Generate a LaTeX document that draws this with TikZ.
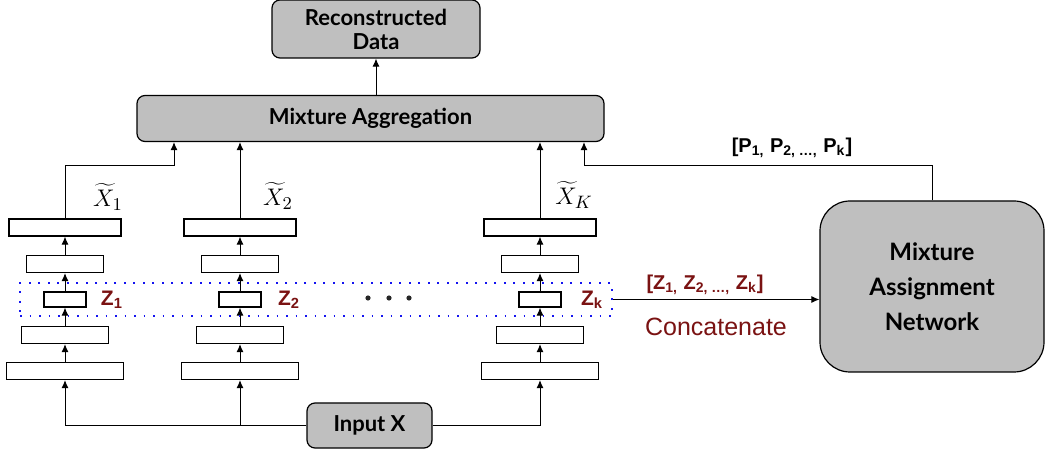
\documentclass[tikz,border=0pt]{standalone}
\usepackage{fontspec}
\usepackage{tikz}
\usetikzlibrary{arrows.meta}
\newfontfamily\boxfont{Lato}
\newfontfamily\arialfont{Liberation Sans}
\definecolor{boxgray}{RGB}{191,191,191}
\definecolor{zred}{RGB}{122,18,18}
\definecolor{dotblue}{RGB}{20,20,240}

\begin{document}
\begin{tikzpicture}[x=0.5pt,y=-0.5pt,
    grey/.style={draw, fill=boxgray, line width=0.6pt, rounded corners=4pt,
      font=\boxfont\bfseries\fontsize{11}{12}\selectfont, align=center, inner sep=0pt},
    layer/.style={draw, line width=0.6pt, minimum height=8.5pt, inner sep=0pt},
    arr/.style={-{Latex[length=4pt,width=3.5pt]}, line width=0.5pt},
    zlab/.style={text=zred, font=\arialfont\bfseries\fontsize{10.5}{12}\selectfont},
    xlab/.style={font=\fontsize{13}{14}\selectfont},
    dot/.style={circle, fill=black!85, minimum size=2.6pt, inner sep=0pt}
  ]
  \useasboundingbox (0,0) rectangle (1045,454);

  \node[grey, minimum width=104pt, minimum height=29pt] (recon) at (376,29) {Reconstructed\\Data};
  \node[grey, minimum width=233.5pt, minimum height=23pt] (agg) at (370.5,118.5) {Mixture Aggregation};
  \node[grey, minimum width=62.5pt, minimum height=22.5pt] (input) at (369.5,425.5) {Input X};
  \node[grey, rounded corners=15pt, minimum width=112pt, minimum height=85.5pt,
    font=\boxfont\bfseries\fontsize{12}{17.5}\selectfont] (man) at (932,286.5) {Mixture\\Assignment\\Network};

  % first column
  \node[layer, minimum width=58.5pt] (a1) at (65,371) {};
  \node[layer, minimum width=43.5pt] (a2) at (65,335) {};
  \node[layer, minimum width=21pt, minimum height=7.5pt] (a3) at (65,299.5) {};
  \node[layer, minimum width=38.5pt] (a4) at (65,264) {};
  \node[layer, minimum width=56pt] (a5) at (65,227.5) {};
  % second column
  \node[layer, minimum width=58.5pt] (b1) at (240,371) {};
  \node[layer, minimum width=43.5pt] (b2) at (240,335) {};
  \node[layer, minimum width=21pt, minimum height=7.5pt] (b3) at (240,299.5) {};
  \node[layer, minimum width=38.5pt] (b4) at (240,264) {};
  \node[layer, minimum width=56pt] (b5) at (240,227.5) {};
  % last column
  \node[layer, minimum width=58.5pt] (k1) at (540,371) {};
  \node[layer, minimum width=43.5pt] (k2) at (540,335) {};
  \node[layer, minimum width=21pt, minimum height=7.5pt] (k3) at (540,299.5) {};
  \node[layer, minimum width=38.5pt] (k4) at (540,264) {};
  \node[layer, minimum width=56pt] (k5) at (540,227.5) {};

  \draw[arr] (a1.north) -- (a2.south);
  \draw[arr] (a2.north) -- (a3.south);
  \draw[arr] (a3.north) -- (a4.south);
  \draw[arr] (a4.north) -- (a5.south);
  \draw[arr] (b1.north) -- (b2.south);
  \draw[arr] (b2.north) -- (b3.south);
  \draw[arr] (b3.north) -- (b4.south);
  \draw[arr] (b4.north) -- (b5.south);
  \draw[arr] (k1.north) -- (k2.south);
  \draw[arr] (k2.north) -- (k3.south);
  \draw[arr] (k3.north) -- (k4.south);
  \draw[arr] (k4.north) -- (k5.south);

  \node[draw=dotblue, line width=1.1pt, dash pattern=on 0.9pt off 3.85pt,
    minimum width=296pt, minimum height=16.5pt, inner sep=0pt] (zbox) at (316,299.5) {};

  \draw[arr] (input.west) -| (a1.south);
  \draw[arr] (input.west) -| (b1.south);
  \draw[arr] (input.east) -| (k1.south);

  \coordinate (bend1) at (174,166);
  \coordinate (bend2) at (584,166);
  \draw[arr] (a5.north) |- (bend1) -- (bend1 |- agg.south);
  \draw[arr] (b5.north) -- (b5.north |- agg.south);
  \draw[arr] (k5.north) -- (k5.north |- agg.south);
  \draw[arr] (man.north) |- (bend2) -- (bend2 |- agg.south);
  \draw[arr] (recon.south |- agg.north) -- (recon.south);
  \draw[arr] (zbox.east) -- (zbox.east -| man.west);

  \node[xlab] (xt1) at (108,197) {$\widetilde{X}_1$};
  \node[xlab] (xt2) at (278,196) {$\widetilde{X}_2$};
  \node[xlab] (xtk) at (574,195) {$\widetilde{X}_K$};

  \node[zlab] (z1) at (112,300) {Z\textsubscript{1}};
  \node[zlab] (z2) at (289,300) {Z\textsubscript{2}};
  \node[zlab] (zk) at (592,300) {Z\textsubscript{k}};
  \node[dot] (d1) at (368,298) {};
  \node[dot] (d2) at (389,298) {};
  \node[dot] (d3) at (409,298) {};

  \node[zlab, font=\arialfont\bfseries\fontsize{10}{12}\selectfont] (zlist) at (705,285)
    {[Z\textsubscript{1,} Z\textsubscript{2, \ldots,} Z\textsubscript{k}]};
  \node[text=zred, font=\arialfont\fontsize{12.5}{14}\selectfont] (concat) at (716,327) {Concatenate};
  \node[font=\arialfont\bfseries\fontsize{10}{12}\selectfont] (plist) at (792,148)
    {[P\textsubscript{1,} P\textsubscript{2, \ldots,} P\textsubscript{k}]};
\end{tikzpicture}
\end{document}
